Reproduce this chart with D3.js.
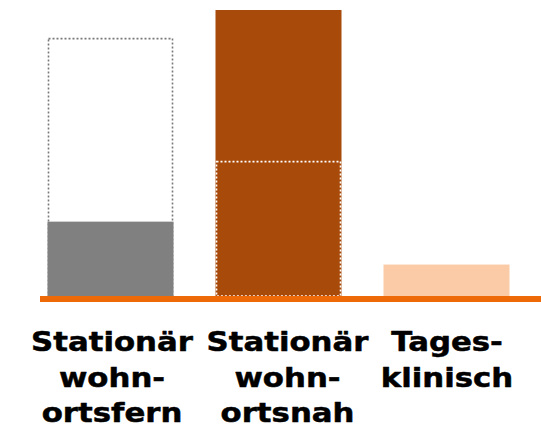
<!DOCTYPE html>
<html>
<head>
<meta charset="utf-8">
<script src="https://cdn.jsdelivr.net/npm/d3@7/dist/d3.min.js"></script>
<style>
  html, body { margin: 0; padding: 0; background: #fff; }
  svg { display: block; }
</style>
</head>
<body>
<svg id="chart" width="541" height="428"></svg>
<script>
// ---- data ----
const categories = ["Stationär wohnortsfern", "Stationär wohnortsnah", "Tagesklinisch"];
const labelLines = [
  ["Stationär", "wohn-", "ortsfern"],
  ["Stationär", "wohn-", "ortsnah"],
  ["Tages-", "klinisch"]
];
const barValues = [26, 100, 11];        // solid bars
const outlineValues = [90, 47, null];   // dotted outlines

// ---- styles ----
const barColors = ["#808080", "#A84A0A", "#FBCBA7"];
const outlineColors = ["#7a7a7a", "#ffffff", null];
const labelDx = [1.5, 9, 0.5];

const svg = d3.select("#chart");

const x = d3.scaleBand()
  .domain(categories)
  .range([26.5, 530.5])
  .paddingInner(0.25)
  .paddingOuter(0.125);

const y = d3.scaleLinear()
  .domain([0, 100])
  .range([296, 10]);

function outline(sel, idx) {
  sel.append("g").selectAll("rect")
    .data(categories.map((c, i) => ({c, i, v: outlineValues[i]})).filter(d => d.v != null && d.i === idx))
    .join("rect")
    .attr("x", d => x(d.c) + 1)
    .attr("y", d => y(d.v))
    .attr("width", d => x.bandwidth() - 2)
    .attr("height", d => y(0) - y(d.v))
    .attr("fill", "none")
    .attr("stroke", d => outlineColors[d.i])
    .attr("stroke-width", 1.6)
    .attr("stroke-dasharray", "2,2");
}

// dotted outline behind bar 1
outline(svg, 0);

// bars
svg.append("g").selectAll("rect")
  .data(categories.map((c, i) => ({c, i, v: barValues[i]})))
  .join("rect")
  .attr("x", d => x(d.c))
  .attr("y", d => y(d.v))
  .attr("width", x.bandwidth())
  .attr("height", d => y(0) - y(d.v))
  .attr("fill", d => barColors[d.i]);

// dotted outline over bar 2
outline(svg, 1);

// baseline
svg.append("line")
  .attr("x1", 40).attr("x2", 541)
  .attr("y1", y(0) + 3).attr("y2", y(0) + 3)
  .attr("stroke", "#EE6A08")
  .attr("stroke-width", 6);

// labels
const lab = svg.append("g")
  .attr("font-family", "'DejaVu Sans', sans-serif")
  .attr("font-weight", "bold")
  .attr("font-size", 27)
  .attr("fill", "#000");

categories.forEach((c, i) => {
  const cx = x(c) + x.bandwidth() / 2 + labelDx[i];
  const g = lab.append("g").attr("transform", `translate(${cx},0) scale(1.14,1)`);
  labelLines[i].forEach((t, j) => {
    g.append("text")
      .attr("x", 0)
      .attr("y", 351.5 + j * 35.5)
      .attr("text-anchor", "middle")
      .attr("stroke", "#000")
      .attr("stroke-width", 0.5)
      .attr("stroke-linejoin", "round")
      .text(t);
  });
});
</script>
</body>
</html>
